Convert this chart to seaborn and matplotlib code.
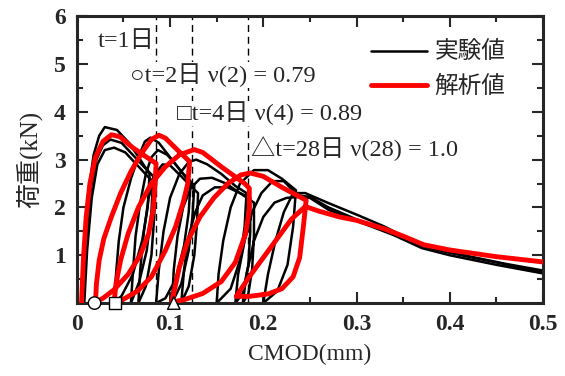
import numpy as np
import pandas as pd
import matplotlib
matplotlib.use("Agg")
import matplotlib.pyplot as plt
from matplotlib.lines import Line2D
from matplotlib.ticker import MultipleLocator
import seaborn as sns

# ---------------- data ----------------
# analysis (red) path: CMOD (mm), load (kN)
red_x = [0.005, 0.007, 0.010, 0.014, 0.020, 0.028, 0.037, 0.046, 0.060, 0.075, 0.085,
         0.084, 0.082, 0.077, 0.068, 0.055, 0.040, 0.028, 0.020,
         0.021, 0.024, 0.029, 0.037, 0.047, 0.058, 0.070, 0.080, 0.088, 0.095, 0.108, 0.121,
         0.119, 0.114, 0.106, 0.095, 0.080, 0.065, 0.050, 0.040,
         0.042, 0.047, 0.055, 0.066, 0.080, 0.095, 0.110, 0.126, 0.135, 0.155, 0.180,
         0.185, 0.185, 0.181, 0.170, 0.155, 0.135, 0.115, 0.102,
         0.105, 0.110, 0.119, 0.132, 0.147, 0.162, 0.176, 0.186, 0.200, 0.220, 0.246,
         0.243, 0.239, 0.232, 0.220, 0.205, 0.185, 0.171,
         0.185, 0.200, 0.215, 0.230, 0.245,
         0.260, 0.282, 0.300, 0.330, 0.350, 0.372, 0.400, 0.450, 0.500]
red_y = [0.00, 0.90, 1.80, 2.50, 3.05, 3.38, 3.52, 3.48, 3.25, 3.05, 2.92,
         2.50, 1.95, 1.45, 1.00, 0.60, 0.28, 0.10, 0.02,
         0.40, 0.90, 1.35, 1.80, 2.30, 2.75, 3.15, 3.42, 3.51, 3.45, 3.20, 2.96,
         2.50, 2.10, 1.60, 1.10, 0.55, 0.25, 0.08, 0.02,
         0.40, 0.90, 1.45, 2.00, 2.50, 2.85, 3.10, 3.21, 3.15, 2.85, 2.50,
         2.40, 1.95, 1.45, 0.85, 0.45, 0.20, 0.07, 0.02,
         0.30, 0.75, 1.30, 1.80, 2.20, 2.50, 2.68, 2.72, 2.65, 2.42, 2.15,
         1.60, 0.95, 0.55, 0.30, 0.19, 0.14, 0.14,
         0.55, 0.95, 1.35, 1.75, 2.02,
         1.92, 1.80, 1.73, 1.55, 1.40, 1.22, 1.11, 0.97, 0.86]

# experiment (black) specimens
expA_x = [0.006, 0.009, 0.013, 0.018, 0.024, 0.030, 0.043, 0.056, 0.068, 0.078,
          0.076, 0.070, 0.060, 0.048, 0.040,
          0.042, 0.045, 0.050, 0.058, 0.066, 0.073, 0.079, 0.088, 0.100, 0.112, 0.122,
          0.120, 0.115, 0.106, 0.095, 0.085,
          0.088, 0.093, 0.100, 0.110, 0.120, 0.128, 0.140, 0.155, 0.170, 0.182,
          0.180, 0.175, 0.165, 0.150,
          0.152, 0.157, 0.165, 0.175, 0.190, 0.205, 0.220, 0.235,
          0.232, 0.226, 0.215, 0.200,
          0.205, 0.213, 0.222, 0.232, 0.245,
          0.270, 0.300, 0.330, 0.360, 0.380, 0.420, 0.460, 0.500]
expA_y = [0.00, 1.20, 2.40, 3.10, 3.50, 3.68, 3.62, 3.35, 3.00, 2.70,
          2.00, 1.30, 0.60, 0.15, 0.00,
          0.60, 1.30, 2.00, 2.60, 3.05, 3.38, 3.46, 3.35, 3.05, 2.75, 2.55,
          1.90, 1.20, 0.50, 0.10, 0.00,
          0.70, 1.50, 2.20, 2.70, 2.95, 3.00, 2.90, 2.70, 2.45, 2.30,
          1.60, 0.90, 0.30, 0.00,
          0.60, 1.30, 2.00, 2.50, 2.78, 2.78, 2.60, 2.36,
          1.60, 0.80, 0.25, 0.00,
          0.60, 1.30, 1.90, 2.30, 2.30,
          2.09, 1.85, 1.60, 1.30, 1.15, 0.98, 0.82, 0.68]

expB_x = [0.007, 0.010, 0.015, 0.021, 0.028, 0.036, 0.048, 0.060, 0.072, 0.082,
          0.080, 0.075, 0.067, 0.058,
          0.060, 0.063, 0.068, 0.074, 0.080, 0.087, 0.097, 0.108, 0.118, 0.126,
          0.124, 0.120, 0.112, 0.102,
          0.104, 0.108, 0.114, 0.122, 0.132, 0.145, 0.160, 0.175, 0.186,
          0.186, 0.184, 0.178, 0.170,
          0.173, 0.180, 0.188, 0.198, 0.210, 0.222, 0.232, 0.238,
          0.250, 0.270, 0.300, 0.340, 0.370, 0.400, 0.450, 0.500]
expB_y = [0.00, 1.20, 2.40, 3.00, 3.30, 3.42, 3.35, 3.10, 2.85, 2.65,
          1.90, 1.10, 0.45, 0.00,
          0.60, 1.40, 2.10, 2.70, 3.05, 3.20, 3.10, 2.85, 2.60, 2.45,
          1.80, 1.10, 0.40, 0.00,
          0.70, 1.40, 2.00, 2.40, 2.60, 2.62, 2.50, 2.30, 2.20,
          1.50, 0.80, 0.20, 0.00,
          0.60, 1.30, 1.90, 2.30, 2.55, 2.55, 2.35, 2.25,
          2.22, 2.00, 1.75, 1.45, 1.20, 1.05, 0.85, 0.64]

expC_x = [0.008, 0.011, 0.016, 0.022, 0.030, 0.040, 0.052, 0.064, 0.076, 0.084,
          0.083, 0.080, 0.074, 0.066,
          0.068, 0.072, 0.077, 0.084, 0.092, 0.100, 0.112, 0.122, 0.130,
          0.129, 0.126, 0.120, 0.112,
          0.115, 0.120, 0.127, 0.135, 0.148, 0.162, 0.175, 0.190,
          0.190, 0.188, 0.184, 0.178,
          0.182, 0.190, 0.200, 0.212, 0.225, 0.238,
          0.250, 0.270, 0.300, 0.340, 0.370, 0.400, 0.450, 0.500]
expC_y = [0.00, 1.10, 2.20, 2.90, 3.20, 3.25, 3.15, 2.90, 2.65, 2.50,
          1.80, 1.00, 0.35, 0.00,
          0.70, 1.50, 2.20, 2.70, 2.90, 2.88, 2.65, 2.45, 2.30,
          1.70, 1.00, 0.35, 0.00,
          0.70, 1.40, 1.90, 2.25, 2.42, 2.42, 2.30, 2.10,
          1.40, 0.70, 0.20, 0.00,
          0.60, 1.30, 1.80, 2.10, 2.20, 2.22,
          2.20, 1.95, 1.72, 1.42, 1.15, 1.00, 0.80, 0.62]

# ages: unloading CMOD (dashed lines) and start markers
unload_cmod = [0.085, 0.124, 0.184]
marker_x = [0.019, 0.041, 0.104]
marker_kind = ["circle", "square", "triangle"]

x_ticks = [0, 0.1, 0.2, 0.3, 0.4, 0.5]
x_ticklabels = ["0", "0.1", "0.2", "0.3", "0.4", "0.5"]
y_ticks = [1, 2, 3, 4, 5, 6]

# ---------------- style ----------------
sns.set_style("ticks")
plt.rcParams['font.family'] = ['Liberation Serif', 'Noto Sans CJK JP', 'DejaVu Sans']
plt.rcParams['axes.linewidth'] = 2.0

fig = plt.figure(figsize=(5.65, 3.76), dpi=100)
ax = fig.add_axes([0.136, 0.194, 0.825, 0.763])

exp_df = pd.concat([
    pd.DataFrame({"x": expA_x, "y": expA_y, "spec": "A"}),
    pd.DataFrame({"x": expB_x, "y": expB_y, "spec": "B"}),
    pd.DataFrame({"x": expC_x, "y": expC_y, "spec": "C"}),
], ignore_index=True)
red_df = pd.DataFrame({"x": red_x, "y": red_y, "spec": "R"})

for xv in unload_cmod:
    ax.axvline(xv, color="black", lw=1.0, ls=(0, (5, 3.5)), zorder=0.5)

sns.lineplot(data=exp_df, x="x", y="y", units="spec", estimator=None, sort=False,
             color="black", lw=1.8, ax=ax, legend=False, zorder=2)
sns.lineplot(data=red_df, x="x", y="y", units="spec", estimator=None, sort=False,
             color="#ff0000", lw=3.5, ax=ax, legend=False, zorder=3)

mk_df = pd.DataFrame({"x": marker_x, "y": [0, 0, 0], "kind": marker_kind})
sns.scatterplot(data=mk_df, x="x", y="y", style="kind",
                markers={"circle": "o", "square": "s", "triangle": "^"},
                s=80, color="white", edgecolor="black", linewidth=1.0,
                ax=ax, legend=False, clip_on=False, zorder=5)

ax.set_xlim(0, 0.5)
ax.set_ylim(0, 6)
ax.set_xticks(x_ticks)
ax.set_xticklabels(x_ticklabels)
ax.set_yticks(y_ticks)
ax.xaxis.set_minor_locator(MultipleLocator(0.05))
ax.yaxis.set_minor_locator(MultipleLocator(0.5))
ax.tick_params(which="both", direction="in", top=True, right=True, width=1.5)
ax.tick_params(which="major", length=8, labelsize=17, pad=8)
ax.tick_params(which="minor", length=4)
for lab in ax.get_xticklabels() + ax.get_yticklabels():
    lab.set_fontweight("bold")
for sp in ax.spines.values():
    sp.set_linewidth(2.2)

ax.set_xlabel("CMOD(mm)", fontsize=17, labelpad=6)
ax.set_ylabel("荷重(kN)", fontsize=18, labelpad=8)

tfs = 17.5
bb = dict(facecolor="white", edgecolor="none", pad=0.5)
ax.text(0.022, 5.46, "t=1日", fontsize=tfs, va="center", ha="left", bbox=bb, zorder=4)
ax.text(0.057, 4.77, "○t=2日 ν(2) = 0.79", fontsize=tfs, va="center", ha="left", bbox=bb, zorder=4)
ax.text(0.107, 3.97, "□t=4日 ν(4) = 0.89", fontsize=tfs, va="center", ha="left", bbox=bb, zorder=4)
ax.text(0.187, 3.24, "△t=28日 ν(28) = 1.0", fontsize=tfs, va="center", ha="left", zorder=4)

handles = [Line2D([0], [0], color="black", lw=1.8),
           Line2D([0], [0], color="#ff0000", lw=3.5)]
ax.legend(handles, ["実験値", "解析値"], loc="upper right", frameon=False,
          fontsize=17, handlelength=2.4, handletextpad=0.3,
          bbox_to_anchor=(0.96, 0.976), borderaxespad=0.4, labelspacing=0.5)

fig.savefig("out.png", dpi=100)
